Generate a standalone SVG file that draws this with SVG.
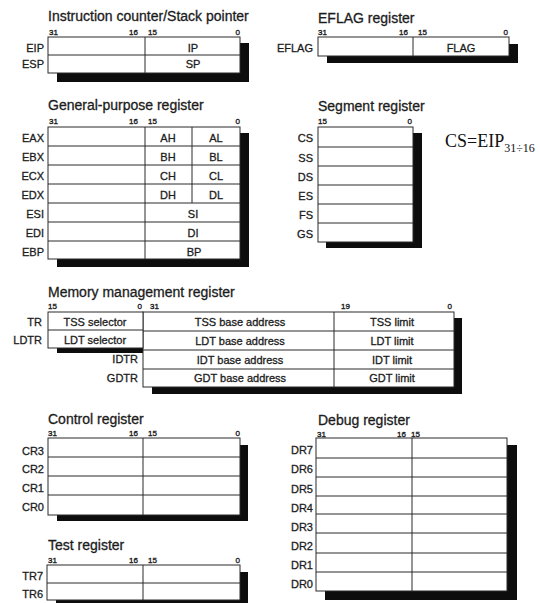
<svg xmlns="http://www.w3.org/2000/svg" width="540" height="603" viewBox="0 0 540 603">
<style>
text{font-family:"Liberation Sans",Arial,Helvetica,sans-serif;fill:#1c1c1c;stroke:#1c1c1c;stroke-width:0.3}
.t{font-size:14px}
.l{font-size:11px}
.b{font-size:8px;stroke-width:0.35}
.e{text-anchor:end}
.m{text-anchor:middle}
.box{fill:#fff;stroke:#2a2a2a;stroke-width:1}
.sh{fill:#0d0d0d}
.ln{stroke:#2a2a2a;stroke-width:1;fill:none}
.tm{font-family:"Liberation Serif","Times New Roman",serif;fill:#111;stroke:none}
</style>
<rect width="540" height="603" fill="#fff"/>

<g id="instruction-counter">
<text class="t" x="48" y="21">Instruction counter/Stack pointer</text>
<text class="b" x="49" y="35">31</text><text class="b e" x="138" y="35">16</text><text class="b" x="148" y="35">15</text><text class="b e" x="240" y="35">0</text>
<rect class="sh" x="57" y="43" width="192" height="39"/>
<rect class="box" x="48" y="37" width="192" height="36"/>
<path class="ln" d="M48 55H240M145 37V73"/>
<text class="l e" x="44" y="52">EIP</text><text class="l e" x="44" y="68">ESP</text>
<text class="l m" x="193" y="52">IP</text><text class="l m" x="193" y="68">SP</text>
</g>

<g id="eflag-register">
<text class="t" x="318" y="23">EFLAG register</text>
<text class="b" x="318" y="35">31</text><text class="b e" x="408" y="35">16</text><text class="b" x="418" y="35">15</text><text class="b e" x="508" y="35">0</text>
<rect class="sh" x="327" y="44" width="191" height="19"/>
<rect class="box" x="318" y="37" width="191" height="19"/>
<path class="ln" d="M413 37V56"/>
<text class="l e" x="313" y="52">EFLAG</text>
<text class="l m" x="461" y="52">FLAG</text>
</g>

<g id="general-purpose-register">
<text class="t" x="48" y="110">General-purpose register</text>
<text class="b" x="49" y="124">31</text><text class="b e" x="138" y="124">16</text><text class="b" x="148" y="124">15</text><text class="b e" x="240" y="124">0</text>
<rect class="sh" x="57" y="133" width="192" height="134"/>
<rect class="box" x="48" y="127" width="192" height="132"/>
<path class="ln" d="M48 146H240M48 165H240M48 184H240M48 203H240M48 222H240M48 241H240M145 127V259M192 127V203"/>
<text class="l e" x="44" y="142">EAX</text><text class="l e" x="44" y="161">EBX</text><text class="l e" x="44" y="180">ECX</text><text class="l e" x="44" y="199">EDX</text><text class="l e" x="44" y="218">ESI</text><text class="l e" x="44" y="237">EDI</text><text class="l e" x="44" y="256">EBP</text>
<text class="l m" x="168" y="142">AH</text><text class="l m" x="216" y="142">AL</text>
<text class="l m" x="168" y="161">BH</text><text class="l m" x="216" y="161">BL</text>
<text class="l m" x="168" y="180">CH</text><text class="l m" x="216" y="180">CL</text>
<text class="l m" x="168" y="199">DH</text><text class="l m" x="216" y="199">DL</text>
<text class="l m" x="193" y="218">SI</text><text class="l m" x="193" y="237">DI</text><text class="l m" x="194" y="256">BP</text>
</g>

<g id="segment-register">
<text class="t" x="318" y="111">Segment register</text>
<text class="b" x="318" y="124">15</text><text class="b e" x="412" y="124">0</text>
<rect class="sh" x="326" y="133" width="96" height="115"/>
<rect class="box" x="318" y="127" width="95" height="115"/>
<path class="ln" d="M318 147H413M318 166H413M318 185H413M318 204H413M318 223H413"/>
<text class="l e" x="313" y="142">CS</text><text class="l e" x="313" y="162">SS</text><text class="l e" x="313" y="181">DS</text><text class="l e" x="313" y="200">ES</text><text class="l e" x="313" y="219">FS</text><text class="l e" x="313" y="238">GS</text>
</g>

<g id="cs-note">
<text class="tm" x="445" y="147" font-size="18">CS=EIP<tspan font-size="12" dy="5">31÷16</tspan></text>
</g>

<g id="memory-management-register">
<text class="t" x="48" y="297">Memory management register</text>
<text class="b" x="48" y="309">15</text><text class="b e" x="142" y="309">0</text><text class="b" x="150" y="309">31</text><text class="b" x="341" y="309">19</text><text class="b e" x="452" y="309">0</text>
<rect class="sh" x="152" y="318" width="310" height="76"/>
<rect class="sh" x="57" y="318" width="86" height="35"/>
<rect class="box" x="143" y="312" width="311" height="75"/>
<rect class="box" x="48" y="312" width="95" height="36"/>
<path class="ln" d="M48 330H143M143 331H454M143 350H454M143 369H454M334 312V387"/>
<text class="l e" x="42" y="326">TR</text><text class="l e" x="42" y="344">LDTR</text>
<text class="l e" x="138" y="363">IDTR</text><text class="l e" x="138" y="382">GDTR</text>
<text class="l m" x="95" y="326">TSS selector</text><text class="l m" x="95" y="344">LDT selector</text>
<text class="l m" x="240" y="326">TSS base address</text><text class="l m" x="240" y="345">LDT base address</text><text class="l m" x="240" y="364">IDT base address</text><text class="l m" x="240" y="382">GDT base address</text>
<text class="l m" x="392" y="326">TSS limit</text><text class="l m" x="392" y="345">LDT limit</text><text class="l m" x="392" y="364">IDT limit</text><text class="l m" x="392" y="382">GDT limit</text>
</g>

<g id="control-register">
<text class="t" x="48" y="424">Control register</text>
<text class="b" x="48" y="436">31</text><text class="b e" x="138" y="436">16</text><text class="b" x="148" y="436">15</text><text class="b e" x="240" y="436">0</text>
<rect class="sh" x="57" y="445" width="191" height="76"/>
<rect class="box" x="48" y="438" width="192" height="77"/>
<path class="ln" d="M48 457H240M48 476H240M48 495H240M143 438V515"/>
<text class="l e" x="44" y="455">CR3</text><text class="l e" x="44" y="473">CR2</text><text class="l e" x="44" y="492">CR1</text><text class="l e" x="44" y="511">CR0</text>
</g>

<g id="test-register">
<text class="t" x="48" y="550">Test register</text>
<text class="b" x="48" y="563">31</text><text class="b e" x="138" y="563">16</text><text class="b" x="148" y="563">15</text><text class="b e" x="240" y="563">0</text>
<rect class="sh" x="56" y="572" width="192" height="36"/>
<rect class="box" x="47" y="565" width="193" height="35"/>
<path class="ln" d="M47 583H240M143 565V600"/>
<text class="l e" x="43" y="580">TR7</text><text class="l e" x="43" y="598">TR6</text>
</g>

<g id="debug-register">
<text class="t" x="318" y="425">Debug register</text>
<text class="b" x="317" y="437">31</text><text class="b e" x="406" y="437">16</text><text class="b" x="411" y="437">15</text>
<rect class="sh" x="325" y="445" width="192" height="155"/>
<rect class="box" x="316" y="438" width="191" height="153"/>
<path class="ln" d="M316 458H507M316 477H507M316 496H507M316 514H507M316 533H507M316 553H507M316 572H507M412 438V591"/>
<text class="l e" x="313" y="454">DR7</text><text class="l e" x="313" y="473">DR6</text><text class="l e" x="313" y="493">DR5</text><text class="l e" x="313" y="512">DR4</text><text class="l e" x="313" y="531">DR3</text><text class="l e" x="313" y="550">DR2</text><text class="l e" x="313" y="569">DR1</text><text class="l e" x="313" y="588">DR0</text>
</g>
</svg>
